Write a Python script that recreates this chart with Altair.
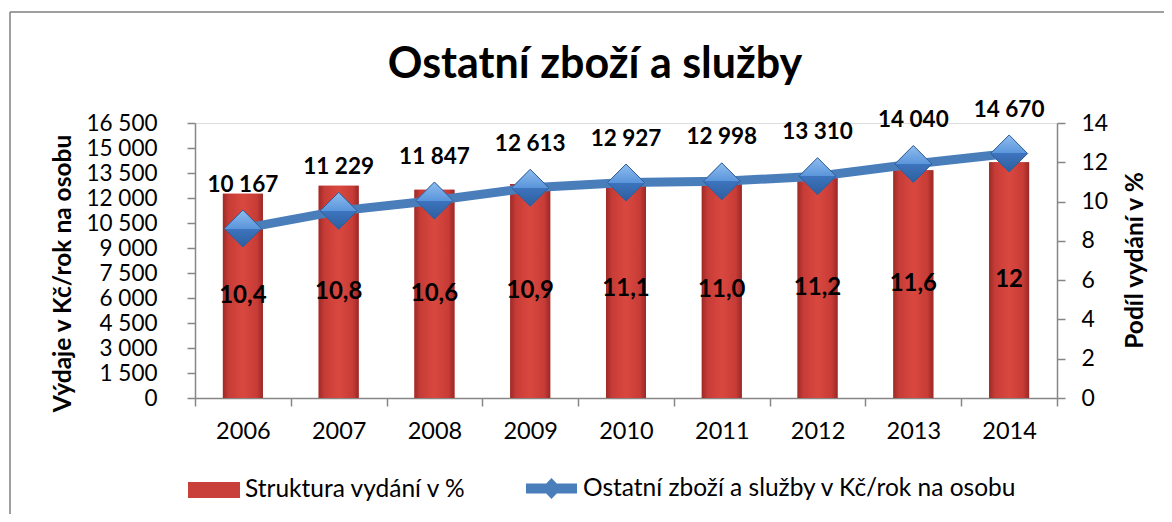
import altair as alt
import pandas as pd

years = ["2006", "2007", "2008", "2009", "2010", "2011", "2012", "2013", "2014"]
pct = [10.4, 10.8, 10.6, 10.9, 11.1, 11.0, 11.2, 11.6, 12.0]
pct_labels = ["10,4", "10,8", "10,6", "10,9", "11,1", "11,0", "11,2", "11,6", "12"]
kc = [10167, 11229, 11847, 12613, 12927, 12998, 13310, 14040, 14670]
left_ticks = [0, 1500, 3000, 4500, 6000, 7500, 9000, 10500, 12000, 13500, 15000, 16500]
right_ticks = [0, 2, 4, 6, 8, 10, 12, 14]

bar_name = "Struktura vydání v %"
line_name = "Ostatní zboží a služby v Kč/rok na osobu"

df = pd.DataFrame({"year": years, "pct": pct, "pct_label": pct_labels, "kc": kc,
                   "s_bar": bar_name, "s_line": line_name})

FONT = "Lato"
AXIS_GRAY = "#868686"
RED = "#C9403B"
BLUE = "#4A7EBB"

bar_grad = alt.Gradient(
    gradient="linear", x1=0, x2=1, y1=0, y2=0,
    stops=[alt.GradientStop(color="#9E2A27", offset=0),
           alt.GradientStop(color="#C73C37", offset=0.15),
           alt.GradientStop(color="#D9483F", offset=0.5),
           alt.GradientStop(color="#C73C37", offset=0.85),
           alt.GradientStop(color="#9A2826", offset=1)])

diamond_grad = alt.Gradient(
    gradient="linear", x1=0, x2=0, y1=0, y2=1,
    stops=[alt.GradientStop(color="#8FBDEE", offset=0),
           alt.GradientStop(color="#5A95DB", offset=0.5),
           alt.GradientStop(color="#3D74BE", offset=0.5),
           alt.GradientStop(color="#2E5F9F", offset=1)])

x_enc = alt.X("year:N", sort=years, title=None,
              scale=alt.Scale(paddingInner=0, paddingOuter=0),
              axis=alt.Axis(labelAngle=0, labelFont=FONT, labelFontSize=23.5, labelColor="#000",
                            labelPadding=13, tickBand="extent", tickSize=8,
                            domainColor=AXIS_GRAY, tickColor=AXIS_GRAY, domainWidth=1.5,
                            tickWidth=1.5, grid=False))

right_scale = alt.Scale(domain=[0, 14], nice=False)
left_scale = alt.Scale(domain=[0, 16500], nice=False)

right_axis = alt.Axis(orient="right", values=right_ticks, title="Podíl vydání v %",
                      labelFont=FONT, labelFontSize=23, labelColor="#000", labelPadding=16,
                      tickSize=8, domainColor=AXIS_GRAY, tickColor=AXIS_GRAY,
                      domainWidth=1.5, tickWidth=1.5, grid=False,
                      titleFont=FONT, titleFontSize=24.5, titleFontWeight="bold", titleColor="#000",
                      titleAngle=270, titleX=78, titleY=137, titleAlign="center",
                      titleBaseline="middle")

left_axis = alt.Axis(orient="left", values=left_ticks, title="Výdaje v Kč/rok na osobu",
                     labelExpr="replace(format(datum.value, ','), ',', ' ')",
                     labelFont=FONT, labelFontSize=22.5, labelColor="#000", labelPadding=30,
                     tickSize=8, domainColor=AXIS_GRAY, tickColor=AXIS_GRAY,
                     domainWidth=1.5, tickWidth=1.5, grid=False,
                     titleFont=FONT, titleFontSize=24.5, titleFontWeight="bold", titleColor="#000",
                     titleAngle=270, titleX=-132, titleY=150, titleAlign="center",
                     titleBaseline="middle")

base = alt.Chart(df)

y_right = alt.Y("pct:Q", scale=right_scale, axis=right_axis)
y_left = alt.Y("kc:Q", scale=left_scale, axis=left_axis)

bars_base = base.mark_bar(size=40).encode(
    x=x_enc, y=y_right,
    color=alt.Color("s_bar:N", scale=alt.Scale(domain=[bar_name], range=[RED]),
                    legend=alt.Legend(title=None, orient="none", legendX=-7, legendY=341,
                                      symbolType="M-1,-0.3077H1V0.3077H-1Z", symbolSize=2704,
                                      symbolStrokeWidth=0, labelOffset=5,
                                      labelFont=FONT, labelFontSize=24.5, labelColor="#000",
                                      labelLimit=600)))

bars_grad = base.mark_bar(size=40, fill=bar_grad).encode(x=x_enc, y=y_right)

bar_text = base.mark_text(font=FONT, fontSize=24, fontWeight="bold", color="#000",
                          baseline="middle").transform_calculate(
    half="datum.pct / 2").encode(
    x=x_enc, y=alt.Y("half:Q", scale=right_scale, axis=right_axis), text="pct_label:N")

bars = alt.layer(bars_base, bars_grad, bar_text)

line = base.mark_line(color=BLUE, strokeWidth=9).encode(x=x_enc, y=y_left)

line_path = ("M-0.836,-0.164L-0.172,-0.164L0,-0.344L0.172,-0.164L0.836,-0.164"
             "L0.836,0.164L0.172,0.164L0,0.344L-0.172,0.164L-0.836,0.164Z")

points_base = base.mark_point(shape="diamond", filled=True, size=1370, opacity=1).encode(
    x=x_enc, y=y_left,
    color=alt.Color("s_line:N", scale=alt.Scale(domain=[line_name], range=[BLUE]),
                    legend=alt.Legend(title=None, orient="none", legendX=326, legendY=335,
                                      symbolType=line_path, symbolSize=3721,
                                      symbolStrokeWidth=0, symbolOpacity=1, labelOffset=1,
                                      labelFont=FONT, labelFontSize=24.5, labelColor="#000",
                                      labelLimit=700)))

points_grad = base.mark_point(shape="diamond", filled=True, size=1370, fill=diamond_grad,
                              stroke="#2F5E98", strokeWidth=1, opacity=1).encode(
    x=x_enc, y=y_left)

line_text = base.mark_text(font=FONT, fontSize=22.5, fontWeight="bold", color="#000",
                           baseline="middle", dy=-44).transform_calculate(
    lbl="replace(format(datum.kc, ','), ',', ' ')").encode(
    x=x_enc, y=y_left, text="lbl:N")

lines = alt.layer(line, points_base, points_grad, line_text)

frame_data = alt.Data(values=[{"k": 1}])
frame_top = alt.Chart(frame_data).mark_rule(color="#7F7F7F", strokeWidth=1.5).encode(
    x=alt.value(-185), x2=alt.value(980), y=alt.value(-111))
frame_left = alt.Chart(frame_data).mark_rule(color="#7F7F7F", strokeWidth=1.5).encode(
    x=alt.value(-185), y=alt.value(-111), y2=alt.value(400))

chart = alt.layer(bars, lines, frame_top, frame_left).resolve_scale(
    y="independent", color="independent"
).properties(
    width=862, height=275,
    padding={"left": 187, "top": 115, "right": 107, "bottom": 116},
    autosize=alt.AutoSizeParams(type="none"),
    title=alt.TitleParams("Ostatní zboží a služby", font=FONT, fontSize=43, fontWeight="bold",
                          color="#000", anchor="middle", frame="group", dx=-31,
                          baseline="alphabetic", offset=0, dy=110),
).configure_view(stroke=None).configure(background="white")

chart.save("out.html", embed_options={"renderer": "svg", "actions": False})
